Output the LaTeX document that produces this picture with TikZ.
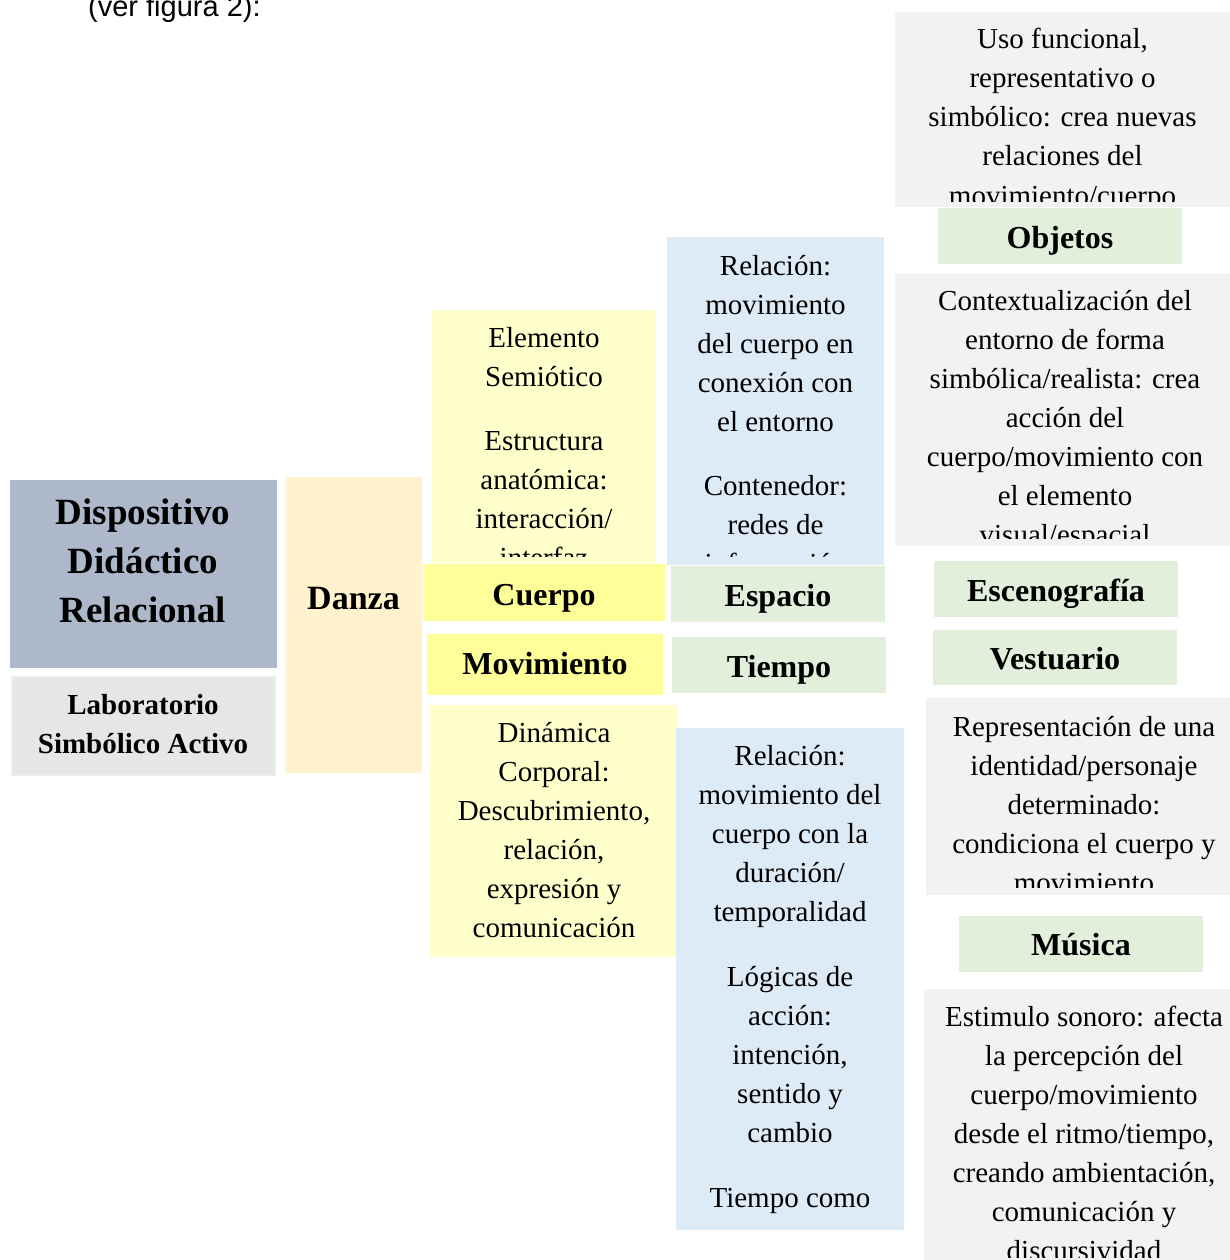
\documentclass[tikz,border=0pt]{standalone}
\usepackage{fontspec}
\setmainfont{Liberation Serif}
\newfontfamily\arialf{Liberation Sans}
\definecolor{cDDR}{HTML}{ADB9CA}
\definecolor{cLSA}{HTML}{E7E6E6}
\definecolor{cDanza}{HTML}{FFF2CC}
\definecolor{cLY}{HTML}{FFFFCC}
\definecolor{cY}{HTML}{FFFF99}
\definecolor{cBlue}{HTML}{DDEBF7}
\definecolor{cGreen}{HTML}{E2EFDA}
\definecolor{cGray}{HTML}{F2F2F2}
\tikzset{
  ln/.style={anchor=base, inner sep=0pt, font=\fontsize{29}{39}\selectfont},
  hd/.style={anchor=base, inner sep=0pt, font=\fontsize{32}{38}\selectfont\bfseries},
}
\begin{document}
\begin{tikzpicture}[x=1pt,y=-1pt]
\useasboundingbox (0,0) rectangle (1230,1260);
\clip (0,0) rectangle (1230,1260);
\fill[white] (0,0) rectangle (1230,1260);

% caption
\node[anchor=base west, inner sep=0pt, font=\arialf\fontsize{29}{34}\selectfont] (cap) at (88,17) {(ver figura 2):};

% left column
\fill[cDDR] (10,480) rectangle (277,668);
\node[anchor=base, inner sep=0pt, font=\fontsize{37}{49}\selectfont\bfseries] (ddr1) at (143,524) {Dispositivo};
\node[anchor=base, inner sep=0pt, font=\fontsize{37}{49}\selectfont\bfseries] (ddr2) at (143,573) {Didáctico};
\node[anchor=base, inner sep=0pt, font=\fontsize{37}{49}\selectfont\bfseries] (ddr3) at (143,622) {Relacional};

\fill[cLSA!70!white] (11,676) rectangle (276,776);
\fill[cLSA] (13,678) rectangle (274,774);
\node[anchor=base, inner sep=0pt, font=\fontsize{29}{39}\selectfont\bfseries] (lsa1) at (143,714) {Laboratorio};
\node[anchor=base, inner sep=0pt, font=\fontsize{29}{39}\selectfont\bfseries] (lsa2) at (143,753) {Simbólico Activo};

\fill[cDanza] (285,477) rectangle (422,773);
\node[anchor=base, inner sep=0pt, font=\fontsize{34}{40}\selectfont\bfseries] (danza) at (353.5,609) {Danza};

% Cuerpo column
\fill[cLY] (432,310) rectangle (656,563);
\begin{scope}
\clip (432,310) rectangle (656,556);
\foreach \t [count=\i] in {Elemento, Semiótico}
  \node[ln] (el\i) at (544,{347+39*(\i-1)}) {\t};
\foreach \t [count=\i] in {Estructura, anatómica:, interacción/, interfaz}
  \node[ln] (es\i) at (544,{450+39*(\i-1)}) {\t};
\end{scope}

\fill[cY] (423,564) rectangle (665,621);
\node[hd] (cuerpo) at (544,605) {Cuerpo};
\fill[cY] (427,634) rectangle (663,695);
\node[hd] (movimiento) at (545,674) {Movimiento};

\fill[cLY] (430,705) rectangle (678,957);
\foreach \t [count=\i] in {Dinámica, Corporal:, {Descubrimiento,}, {relación,}, expresión y, comunicación}
  \node[ln] (din\i) at (554,{742+39*(\i-1)}) {\t};

% Espacio / Tiempo column
\fill[cBlue] (667,237) rectangle (884,565);
\begin{scope}
\clip (667,237) rectangle (884,556);
\foreach \t [count=\i] in {Relación:, movimiento, del cuerpo en, conexión con, el entorno}
  \node[ln] (re\i) at (775.5,{275+39*(\i-1)}) {\t};
\foreach \t [count=\i] in {Contenedor:, redes de, información}
  \node[ln] (co\i) at (775.5,{495+39*(\i-1)}) {\t};
\end{scope}

\fill[cGreen] (671,566) rectangle (885,622);
\node[hd] (espacio) at (778,606) {Espacio};
\fill[cGreen] (672,637) rectangle (886,693);
\node[hd] (tiempo) at (779,677) {Tiempo};

\fill[cBlue] (676,728) rectangle (904,1230);
\begin{scope}
\clip (676,728) rectangle (904,1222);
\foreach \t [count=\i] in {Relación:, movimiento del, cuerpo con la, duración/, temporalidad}
  \node[ln] (rt\i) at (790,{765+39*(\i-1)}) {\t};
\foreach \t [count=\i] in {Lógicas de, acción:, {intención,}, sentido y, cambio}
  \node[ln] (lo\i) at (790,{986+39*(\i-1)}) {\t};
\node[ln] (tc1) at (790,1207) {Tiempo como};
\end{scope}

% right column
\fill[cGray] (895,12) rectangle (1230,207);
\begin{scope}
\clip (895,12) rectangle (1230,201);
\foreach \t [count=\i] in {{Uso funcional,}, representativo o, simbólico: crea nuevas, relaciones del, movimiento/cuerpo}
  \node[ln] (us\i) at (1062.5,{49+39*(\i-1)}) {\t};
\end{scope}

\fill[cGreen] (938,208) rectangle (1182,264);
\node[hd] (objetos) at (1060,248) {Objetos};

\fill[cGray] (895,274) rectangle (1230,546);
\begin{scope}
\clip (895,274) rectangle (1230,538);
\foreach \t [count=\i] in {Contextualización del, entorno de forma, simbólica/realista: crea, acción del, cuerpo/movimiento con, el elemento, visual/espacial}
  \node[ln] (cx\i) at (1065,{310+39*(\i-1)}) {\t};
\end{scope}

\fill[cGreen] (934,561) rectangle (1178,617);
\node[hd] (escenografia) at (1056,601) {Escenografía};
\fill[cGreen] (933,630) rectangle (1177,685);
\node[hd] (vestuario) at (1055,669) {Vestuario};

\fill[cGray] (926,698) rectangle (1230,895);
\begin{scope}
\clip (926,698) rectangle (1230,887);
\foreach \t [count=\i] in {Representación de una, identidad/personaje, determinado:, condiciona el cuerpo y, movimiento}
  \node[ln] (rp\i) at (1084,{736+39*(\i-1)}) {\t};
\end{scope}

\fill[cGreen] (959,916) rectangle (1203,972);
\node[hd] (musica) at (1081,955) {Música};

\fill[cGray] (924,989) rectangle (1230,1260);
\begin{scope}
\clip (924,989) rectangle (1230,1257);
\foreach \t [count=\i] in {Estimulo sonoro: afecta, la percepción del, cuerpo/movimiento, {desde el ritmo/tiempo,}, {creando ambientación,}, comunicación y, discursividad}
  \node[ln] (em\i) at (1084,{1026+39*(\i-1)}) {\t};
\end{scope}
\end{tikzpicture}
\end{document}
